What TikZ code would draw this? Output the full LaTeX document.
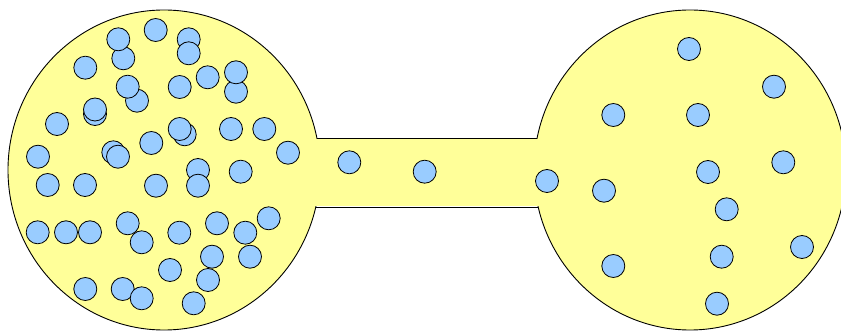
\documentclass[tikz,border=0pt]{standalone}
\usepackage{tikz}
\definecolor{gasyellow}{RGB}{255,255,153}
\definecolor{molblue}{RGB}{153,204,255}

\begin{document}
\begin{tikzpicture}[x=1pt, y=-1pt, line width=0.9pt,
		bulb/.style={draw=black, fill=gasyellow},
		molecule/.style={draw=black, fill=molblue, line width=0.8pt}]
		\def\rx{156}\def\ry{160}\def\rm{11.5}
		\useasboundingbox (0,0) rectangle (841,331);
		\clip (0,0) rectangle (841,331);
		% bulbs and the connecting tube
		\coordinate (left) at (164,170);
		\coordinate (right) at (690,170);
		\coordinate (tubeTL) at (316.8,138);
		\coordinate (tubeTR) at (537.2,138);
		\coordinate (tubeBL) at (315.8,207);
		\coordinate (tubeBR) at (538.2,207);
		\draw[bulb] (left) ellipse [x radius=\rx, y radius=\ry];
		\draw[bulb] (right) ellipse [x radius=\rx, y radius=\ry];
		\fill[gasyellow] (300,138.7) rectangle (555,206.3);
		\draw (tubeTL) -- (tubeTR);
		\draw (tubeBL) -- (tubeBR);
		% molecules, left bulb
		\foreach \x/\y in {155.7/30, 188.7/39.3, 188.7/53.3, 123.3/58.3, 118.3/39.3, 85.3/67.7,
			207.7/77.3, 236/91.7, 236/72.3, 137/100.7, 127.7/86.7, 179.7/87,
			95/114, 95/109.5, 57/124, 184.7/134.3, 179.7/129, 231/129, 264.3/129,
			151.3/143, 288/152.7, 113.3/152.3, 118/156.7, 38/156.7, 198/170, 240.7/171.7,
			47.7/185, 85/185, 156/185.7, 198/185.7, 37.7/232.3, 66/232.3, 90/232.3,
			127.7/223.3, 141.7/242.3, 179.3/232.7, 217/223.3, 268.7/218.3, 245.3/232.7,
			212/256.7, 250/256.7, 170/270, 208/280, 85.3/289, 122.7/289, 141.7/298.3,
			193.7/303.3} {
			\draw[molecule] (\x,\y) circle (\rm);
		}
		% molecules in the tube
		\foreach \x/\y in {349.3/162.3, 424.7/171.7, 547/181} {
			\draw[molecule] (\x,\y) circle (\rm);
		}
		% molecules, right bulb
		\foreach \x/\y in {689/49, 774/86.7, 613.3/115, 698/115, 783.3/162.3, 708/172,
			604/190.7, 726.7/209.3, 802/247, 721.7/256.7, 613.3/266, 717/303.7} {
			\draw[molecule] (\x,\y) circle (\rm);
		}
	\end{tikzpicture}
\end{document}
